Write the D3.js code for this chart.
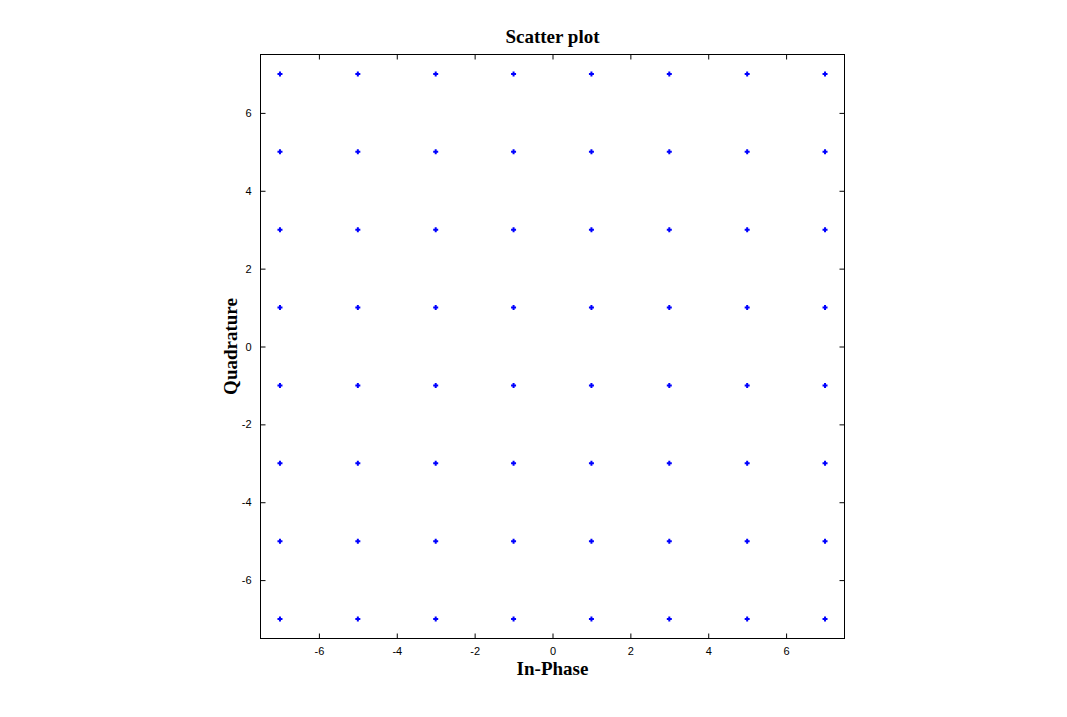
<!DOCTYPE html>
<meta charset="utf-8">
<style>
body { margin: 0; background: #fff; }
.tick text { font: 11px Arial, "Liberation Sans", sans-serif; fill: #000; }
.lbl { font-family: "Times New Roman", "Liberation Serif", serif; font-weight: bold; font-size: 19px; }
</style>
<svg width="1067" height="717"></svg>
<script src="https://d3js.org/d3.v7.min.js"></script>
<script>

// constellation levels (8x8 grid)
var inPhase = [-7, -5, -3, -1, 1, 3, 5, 7];
var quadrature = [-7, -5, -3, -1, 1, 3, 5, 7];
var xTicks = [-6, -4, -2, 0, 2, 4, 6];
var yTicks = [-6, -4, -2, 0, 2, 4, 6];

var points = [];
inPhase.forEach(function(i) {
  quadrature.forEach(function(q) { points.push({i: i, q: q}); });
});

var svg = d3.select("svg");
var pLeft = 260.5, pRight = 844.5, pTop = 54.5, pBottom = 638.5;

var x = d3.scaleLinear().domain([-7.5, 7.5]).range([pLeft, pRight]);
var y = d3.scaleLinear().domain([-7.5, 7.5]).range([pBottom, pTop]);

svg.append("rect")
    .attr("x", pLeft).attr("y", pTop)
    .attr("width", pRight - pLeft).attr("height", pBottom - pTop)
    .attr("fill", "#fff").attr("stroke", "#000").attr("stroke-width", 1);

function styleAxis(g) {
  g.select(".domain").remove();
  g.selectAll(".tick line").attr("stroke", "#000");
}
var fmt = function(d) { return String(d); };

svg.append("g").attr("transform", "translate(0," + pBottom + ")")
    .call(d3.axisBottom(x).tickValues(xTicks).tickSizeInner(-5).tickSizeOuter(0).tickPadding(9).tickFormat(fmt))
    .call(styleAxis);
svg.append("g").attr("transform", "translate(0," + pTop + ")")
    .call(d3.axisTop(x).tickValues(xTicks).tickSizeInner(-5).tickSizeOuter(0).tickFormat(""))
    .call(styleAxis);
svg.append("g").attr("transform", "translate(" + pLeft + ",0)")
    .call(d3.axisLeft(y).tickValues(yTicks).tickSizeInner(-5).tickSizeOuter(0).tickPadding(9).tickFormat(fmt))
    .call(styleAxis);
svg.append("g").attr("transform", "translate(" + pRight + ",0)")
    .call(d3.axisRight(y).tickValues(yTicks).tickSizeInner(-5).tickSizeOuter(0).tickFormat(""))
    .call(styleAxis);

svg.append("g").selectAll("path")
    .data(points)
    .enter().append("path")
    .attr("transform", function(d) { return "translate(" + x(d.i) + "," + y(d.q) + ")"; })
    .attr("d", "M-2.5,-1H-1V-2.5H1V-1H2.5V1H1V2.5H-1V1H-2.5Z")
    .attr("fill", "#0000ff");

svg.append("text").attr("class", "lbl")
    .attr("x", (pLeft + pRight) / 2).attr("y", 43)
    .attr("text-anchor", "middle").text("Scatter plot");

svg.append("text").attr("class", "lbl")
    .attr("x", (pLeft + pRight) / 2).attr("y", 675)
    .attr("text-anchor", "middle").text("In-Phase");

svg.append("text").attr("class", "lbl")
    .attr("transform", "translate(237," + (pTop + pBottom) / 2 + ") rotate(-90)")
    .attr("text-anchor", "middle").text("Quadrature");

</script>
